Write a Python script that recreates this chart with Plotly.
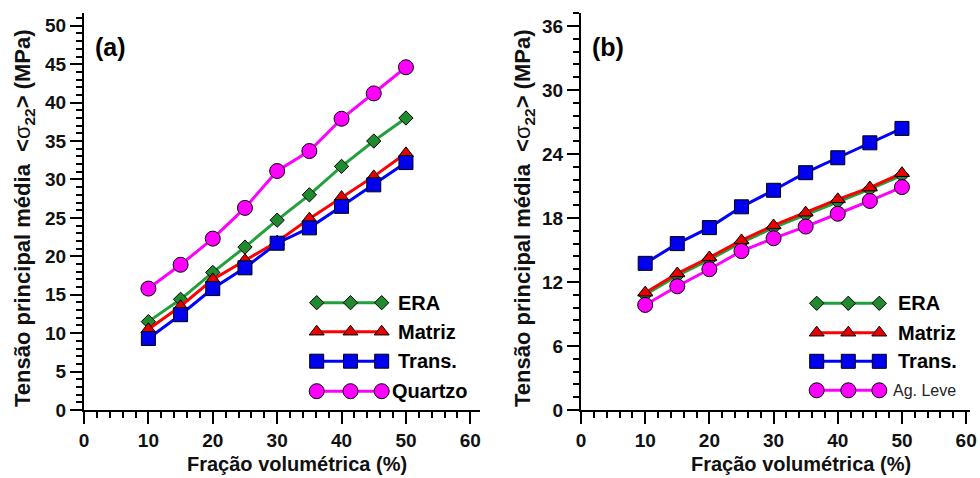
import plotly.graph_objects as go

# ---------------- data ----------------
frac = [10, 15, 20, 25, 30, 35, 40, 45, 50]

a_era = [11.5, 14.4, 17.9, 21.2, 24.7, 28.0, 31.7, 35.0, 38.0]
a_matriz = [10.5, 13.5, 17.0, 19.5, 21.9, 24.9, 27.7, 30.4, 33.4]
a_trans = [9.3, 12.4, 15.8, 18.5, 21.7, 23.7, 26.5, 29.3, 32.2]
a_quartzo = [15.8, 18.9, 22.3, 26.3, 31.1, 33.7, 37.9, 41.2, 44.6]

b_era = [10.8, 12.6, 14.1, 15.7, 17.1, 18.3, 19.55, 20.7, 22.0]
b_matriz = [11.0, 12.8, 14.3, 15.9, 17.3, 18.5, 19.75, 20.85, 22.2]
b_trans = [13.75, 15.6, 17.1, 19.05, 20.6, 22.25, 23.65, 25.05, 26.4]
b_agleve = [9.85, 11.6, 13.2, 14.9, 16.1, 17.2, 18.4, 19.6, 20.9]

names_a = ["ERA", "Matriz", "Trans.", "Quartzo"]
names_b = ["ERA", "Matriz", "Trans.", "Ag. Leve"]

x_ticks = [0, 10, 20, 30, 40, 50, 60]
y_ticks_a = [0, 5, 10, 15, 20, 25, 30, 35, 40, 45, 50]
y_ticks_b = [0, 6, 12, 18, 24, 30, 36]

# ---------------- styles ----------------
W, H = 980, 478
FONT = "Liberation Sans, Arial, sans-serif"
styles = [
    dict(line="#22a03c", fill="#1f8a2e", symbol="diamond", size=11),
    dict(line="#ff0000", fill="#e80000", symbol="triangle-up", size=13),
    dict(line="#0000ff", fill="#0000ee", symbol="square", size=14),
    dict(line="#ff00ff", fill="#ff00ff", symbol="circle", size=15),
]


def px_x(p):
    return p / W


def px_y(p):
    return 1 - p / H


fig = go.Figure()

series_a = [a_era, a_matriz, a_trans, a_quartzo]
series_b = [b_era, b_matriz, b_trans, b_agleve]

for vals, st, nm in zip(series_a, styles, names_a):
    fig.add_trace(go.Scatter(
        x=frac, y=vals, mode="lines+markers", name=nm, showlegend=False,
        line=dict(color=st["line"], width=3),
        marker=dict(symbol=st["symbol"], size=st["size"], color=st["fill"],
                    line=dict(color="#000000", width=1)),
        xaxis="x", yaxis="y"))

for vals, st, nm in zip(series_b, styles, names_b):
    fig.add_trace(go.Scatter(
        x=frac, y=vals, mode="lines+markers", name=nm, showlegend=False,
        line=dict(color=st["line"], width=3),
        marker=dict(symbol=st["symbol"], size=st["size"], color=st["fill"],
                    line=dict(color="#000000", width=1)),
        xaxis="x2", yaxis="y2"))

# ---------------- custom legends (pixel overlay axis) ----------------
leg_a_rows = [302.7, 331.7, 361.2, 391.2]
leg_a_x = [316.7, 350.5, 381.7]
leg_b_rows = [303.3, 332.7, 361.3, 390.3]
leg_b_x = [816.7, 848.3, 879.3]

for rows, xs in ((leg_a_rows, leg_a_x), (leg_b_rows, leg_b_x)):
    for ry, st in zip(rows, styles):
        fig.add_trace(go.Scatter(
            x=xs, y=[ry] * 3, mode="lines+markers", showlegend=False,
            hoverinfo="skip",
            line=dict(color=st["line"], width=3),
            marker=dict(symbol=st["symbol"], size=st["size"], color=st["fill"],
                        line=dict(color="#000000", width=1)),
            xaxis="x3", yaxis="y3"))

annotations = []
label_font = dict(family=FONT, size=20, color="#000000")
for i, (ry, nm) in enumerate(zip(leg_a_rows, names_a)):
    annotations.append(dict(
        x=px_x(396 if i < 3 else 390), y=px_y(ry), xref="paper", yref="paper",
        text="<b>%s</b>" % nm, showarrow=False, xanchor="left", yanchor="middle",
        font=label_font))
for i, (ry, nm) in enumerate(zip(leg_b_rows, names_b)):
    if i < 3:
        annotations.append(dict(
            x=px_x(896), y=px_y(ry), xref="paper", yref="paper",
            text="<b>%s</b>" % nm, showarrow=False, xanchor="left",
            yanchor="middle", font=label_font))
    else:
        annotations.append(dict(
            x=px_x(891), y=px_y(ry), xref="paper", yref="paper",
            text=nm, showarrow=False, xanchor="left", yanchor="middle",
            font=dict(family=FONT, size=16, color="#222222")))

# panel labels
annotations.append(dict(x=px_x(93), y=px_y(47), xref="paper", yref="paper",
                        text="<b>(a)</b>", showarrow=False, xanchor="left",
                        yanchor="middle",
                        font=dict(family=FONT, size=25, color="#000000")))
annotations.append(dict(x=px_x(590), y=px_y(47), xref="paper", yref="paper",
                        text="<b>(b)</b>", showarrow=False, xanchor="left",
                        yanchor="middle",
                        font=dict(family=FONT, size=25, color="#000000")))

# axis titles
ytitle = ("<b>Tensão principal média</b>  <b>&lt;</b>σ<sub><b>22</b></sub>"
          "<b>&gt; (MPa)</b>")
for xc in (24, 524):
    annotations.append(dict(x=px_x(xc), y=px_y(218), xref="paper",
                            yref="paper", text=ytitle, textangle=-90,
                            showarrow=False, xanchor="center",
                            yanchor="middle",
                            font=dict(family=FONT, size=22, color="#111111")))
for xc in (297, 801):
    annotations.append(dict(x=px_x(xc), y=px_y(464), xref="paper",
                            yref="paper", text="<b>Fração volumétrica (%)</b>",
                            showarrow=False, xanchor="center",
                            yanchor="middle",
                            font=dict(family=FONT, size=20, color="#111111")))

tickfont = dict(family=FONT, size=19, color="#111111")


def xaxis_cfg(domain, rng):
    return dict(domain=domain, range=rng, showline=True, linecolor="#000000",
                linewidth=2, ticks="outside", ticklen=12, tickwidth=2,
                tickcolor="#000000", tickvals=x_ticks,
                ticktext=["<b>%d</b>" % v for v in x_ticks],
                tickfont=tickfont, showgrid=False, zeroline=False,
                automargin=False,
                minor=dict(dtick=2, tick0=0, ticks="outside", ticklen=6,
                           tickwidth=2, tickcolor="#000000", showgrid=False),
                fixedrange=True)


def yaxis_cfg(domain, rng, ticks, minor_dt, anchor):
    return dict(domain=domain, range=rng, showline=True, linecolor="#000000",
                linewidth=2, ticks="outside", ticklen=12, tickwidth=2,
                tickcolor="#000000", tickvals=ticks,
                ticktext=["<b>%d</b>" % v for v in ticks],
                tickfont=tickfont, showgrid=False, zeroline=False,
                anchor=anchor, automargin=False,
                minor=dict(dtick=minor_dt, tick0=0, ticks="outside",
                           ticklen=6, tickwidth=2, tickcolor="#000000",
                           showgrid=False),
                fixedrange=True)


ydom = [px_y(410), px_y(12.7)]
fig.update_layout(
    width=W, height=H,
    margin=dict(l=0, r=0, t=0, b=0, pad=0, autoexpand=False),
    paper_bgcolor="#ffffff", plot_bgcolor="rgba(0,0,0,0)",
    showlegend=False,
    xaxis=xaxis_cfg([px_x(84), px_x(480)], [0, 61.5]) | dict(anchor="y"),
    yaxis=yaxis_cfg(ydom, [0, 51.7], y_ticks_a, 1, "x"),
    xaxis2=xaxis_cfg([px_x(581), px_x(970)], [0, 60.6]) | dict(anchor="y2"),
    yaxis2=yaxis_cfg(ydom, [0, 37.25], y_ticks_b, 1.2, "x2"),
    xaxis3=dict(domain=[0, 1], range=[0, W], visible=False, fixedrange=True,
                anchor="y3", automargin=False),
    yaxis3=dict(domain=[0, 1], range=[H, 0], visible=False, fixedrange=True,
                anchor="x3", automargin=False),
    annotations=annotations,
    font=dict(family=FONT),
)

fig.write_html("out.html")
